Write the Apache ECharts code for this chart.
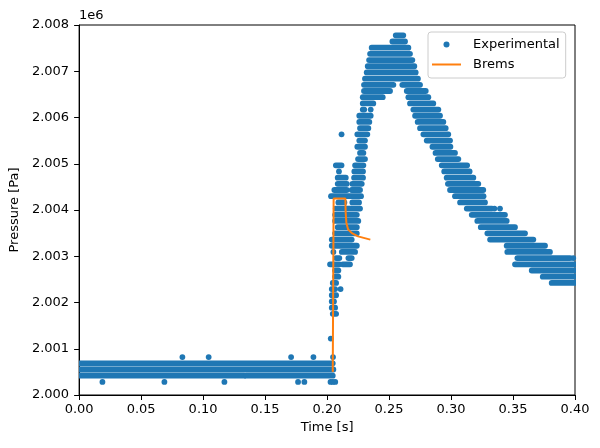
<!DOCTYPE html>
<html>
<head>
<meta charset="utf-8">
<script src="https://cdn.jsdelivr.net/npm/echarts@6/dist/echarts.min.js"></script>
<style>
  html, body { margin: 0; background: #fff; }
  #chart { width: 600px; height: 448px; }
</style>
</head>
<body>
<div id="chart"></div>
<script>
// axis ticks
var timeTicks = { min: 0, max: 0.4, step: 0.05 };
var pressureTicks = { min: 2000000, max: 2008000, step: 1000 };

// experimental samples: runs of samples on one (quantized) pressure level
// [pressure Pa, first time s, last time s]
var expBands = [
  [2007777, 0.2554, 0.2615],
  [2007643, 0.2527, 0.2629],
  [2007510, 0.2360, 0.2656],
  [2007376, 0.2347, 0.2669],
  [2007242, 0.2339, 0.2688],
  [2007108, 0.2328, 0.2704],
  [2006974, 0.2320, 0.2715],
  [2006840, 0.2306, 0.2733],
  [2006707, 0.2298, 0.2535], [2006707, 0.2607, 0.2750],
  [2006573, 0.2298, 0.2508], [2006573, 0.2643, 0.2796],
  [2006439, 0.2288, 0.2449], [2006439, 0.2656, 0.2817],
  [2006305, 0.2288, 0.2373], [2006305, 0.2669, 0.2857],
  [2006171, 0.2288, 0.2300], [2006171, 0.2696, 0.2898],
  [2006038, 0.2260, 0.2352], [2006038, 0.2710, 0.2911],
  [2005904, 0.2260, 0.2341], [2005904, 0.2731, 0.2938],
  [2005770, 0.2266, 0.2333], [2005770, 0.2750, 0.2957],
  [2005636, 0.2244, 0.2325], [2005636, 0.2777, 0.2978],
  [2005502, 0.2260, 0.2306], [2005502, 0.2804, 0.2992],
  [2005368, 0.2244, 0.2306], [2005368, 0.2850, 0.2995],
  [2005235, 0.2266, 0.2293], [2005235, 0.2875, 0.3032],
  [2005101, 0.2250, 0.2306], [2005101, 0.2893, 0.3059],
  [2004967, 0.2071, 0.2117], [2004967, 0.2226, 0.2293], [2004967, 0.2925, 0.3130],
  [2004833, 0.2220, 0.2290], [2004833, 0.2945, 0.3150],
  [2004699, 0.2086, 0.2151], [2004699, 0.2218, 0.2290], [2004699, 0.2965, 0.3180],
  [2004566, 0.2086, 0.2159], [2004566, 0.2204, 0.2280], [2004566, 0.2975, 0.3220],
  [2004432, 0.2059, 0.2159], [2004432, 0.2199, 0.2266], [2004432, 0.2992, 0.3260],
  [2004298, 0.2032, 0.2274], [2004298, 0.3032, 0.3262],
  [2004164, 0.2091, 0.2140], [2004164, 0.2204, 0.2258], [2004164, 0.3073, 0.3274],
  [2004030, 0.2070, 0.2266], [2004030, 0.3127, 0.3330],
  [2003896, 0.2065, 0.2240], [2003896, 0.3167, 0.3435],
  [2003763, 0.2065, 0.2252], [2003763, 0.3212, 0.3449],
  [2003629, 0.2086, 0.2240], [2003629, 0.3240, 0.3516],
  [2003495, 0.2065, 0.2240], [2003495, 0.3293, 0.3597],
  [2003361, 0.2038, 0.2199], [2003361, 0.3315, 0.3664],
  [2003227, 0.2038, 0.2240], [2003227, 0.3449, 0.3758],
  [2003094, 0.2119, 0.2226], [2003094, 0.3454, 0.3798],
  [2002960, 0.2073, 0.2099], [2002960, 0.2172, 0.2199], [2002960, 0.3535, 0.3960],
  [2002826, 0.2024, 0.2099], [2002826, 0.2127, 0.2185], [2002826, 0.3516, 0.4000],
  [2002692, 0.2065, 0.2091], [2002692, 0.3651, 0.4000],
  [2002558, 0.2065, 0.2091], [2002558, 0.3740, 0.4000],
  [2002424, 0.2046, 0.2073], [2002424, 0.3812, 0.4000],
  [2002291, 0.2038, 0.2065],
  [2002157, 0.2038, 0.2073],
  [2002023, 0.2038, 0.2056],
  [2001889, 0.2038, 0.2065],
  [2001755, 0.2046, 0.2073],
  [2000685, 0.0000, 0.2046],
  [2000551, 0.0000, 0.2051],
  [2000417, 0.0000, 0.1331], [2000417, 0.1347, 0.2046]
];

// single experimental samples [time s, pressure Pa]
var expDots = [
  [0.2117, 2005636], [0.2096, 2004833], [0.2051, 2003094], [0.2109, 2002291],
  [0.3986, 2002960], [0.3350, 2004030], [0.3395, 2004030], [0.2352, 2006171],
  [0.2030, 2001220],
  [0.0833, 2000819], [0.1045, 2000819], [0.1710, 2000819], [0.1890, 2000819], [0.2048, 2000819],
  [0.0188, 2000283], [0.0688, 2000283], [0.1172, 2000283], [0.1766, 2000283], [0.1817, 2000283],
  [0.2028, 2000283], [0.2046, 2000283], [0.2066, 2000283]
];

// Brems model
var bremsTime = [0.2046, 0.2053, 0.2148, 0.2150, 0.2156, 0.2170, 0.2200, 0.2250, 0.2349];
var bremsPressure = [2000500, 2004250, 2004250, 2003950, 2003720, 2003580, 2003500, 2003430, 2003360];

var BLUE = '#1f77b4';
var ORANGE = '#ff7f0e';
var R = 2.9; // marker radius px

var chart = echarts.init(document.getElementById('chart'), null, { renderer: 'canvas' });

var axisCommon = {
  type: 'value',
  nameLocation: 'middle',
  nameTextStyle: { fontSize: 13, color: '#000' },
  axisLine: { onZero: false, lineStyle: { color: '#000', width: 1 } },
  axisTick: { length: 5, lineStyle: { color: '#000', width: 1 } },
  splitLine: { show: false }
};

var option = {
  animation: false,
  textStyle: { fontFamily: 'DejaVu Sans' },
  grid: { left: 79, right: 25, top: 25, bottom: 53, show: true, borderColor: '#000', borderWidth: 1 },
  xAxis: Object.assign({}, axisCommon, {
    min: timeTicks.min, max: timeTicks.max, interval: timeTicks.step,
    name: 'Time [s]', nameGap: 26,
    axisLabel: { fontSize: 13, color: '#000', margin: 8, formatter: function (v) { return v.toFixed(2); } }
  }),
  yAxis: Object.assign({}, axisCommon, {
    min: pressureTicks.min, max: pressureTicks.max, interval: pressureTicks.step,
    name: 'Pressure [Pa]', nameGap: 56, nameRotate: 90,
    axisLabel: { fontSize: 13, color: '#000', margin: 10, formatter: function (v) { return (v / 1e6).toFixed(3); } }
  }),
  legend: {
    orient: 'vertical', left: 428, top: 32,
    padding: [5, 6, 6, 4], itemGap: 5, itemWidth: 29, itemHeight: 6,
    borderColor: '#cccccc', borderWidth: 1, borderRadius: 3,
    backgroundColor: 'rgba(255,255,255,0.8)',
    textStyle: { fontSize: 13, color: '#000', lineHeight: 15, padding: [0, 0, 0, 7] },
    data: [
      { name: 'Experimental', icon: 'circle' },
      { name: 'Brems', icon: 'path://M0,0H29V2H0Z' }
    ]
  },
  graphic: [
    { type: 'text', left: 79, top: 9, style: { text: '1e6', fontSize: 13, fill: '#000', fontFamily: 'DejaVu Sans' } }
  ],
  series: [
    {
      name: 'Experimental', type: 'custom', clip: true, z: 2,
      itemStyle: { color: BLUE },
      encode: { x: [0, 1], y: 2 },
      data: expBands.map(function (b) { return [b[1], b[2], b[0]]; }),
      renderItem: function (params, api) {
        var a = api.coord([api.value(0), api.value(2)]);
        var b = api.coord([api.value(1), api.value(2)]);
        return {
          type: 'rect',
          shape: { x: a[0] - R, y: a[1] - R, width: b[0] - a[0] + 2 * R, height: 2 * R, r: R },
          style: { fill: BLUE }
        };
      }
    },
    {
      name: 'Experimental', type: 'scatter', clip: true, z: 2,
      symbolSize: 2 * R, itemStyle: { color: BLUE, opacity: 1 },
      data: expDots
    },
    {
      name: 'Brems', type: 'line', z: 5, symbol: 'none', showSymbol: false,
      lineStyle: { color: ORANGE, width: 2 }, itemStyle: { color: ORANGE },
      data: bremsTime.map(function (t, i) { return [t, bremsPressure[i]]; })
    }
  ]
};

chart.setOption(option);
</script>
</body>
</html>
